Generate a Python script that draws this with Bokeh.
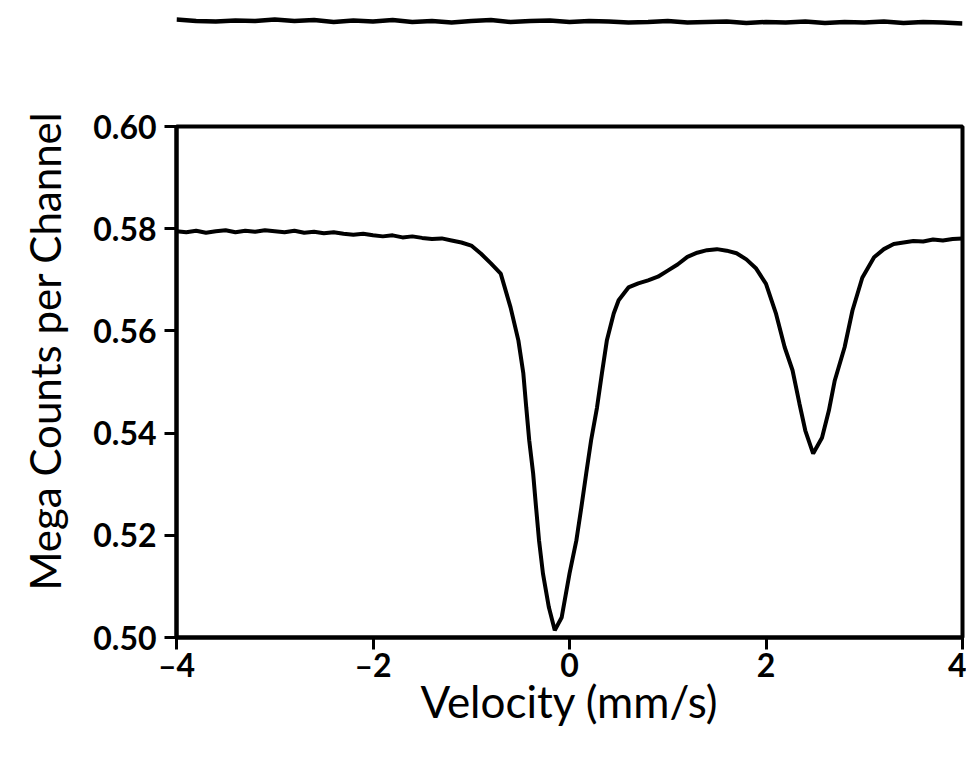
from bokeh.plotting import figure
from bokeh.layouts import column
from bokeh.models import Range1d, FixedTicker, Title
from bokeh.embed import file_html
from bokeh.resources import INLINE

# Main spectrum: velocity (mm/s) and counts (mega counts per channel)
velocity = [-4.0, -3.9, -3.8, -3.7, -3.6, -3.5, -3.4, -3.3, -3.2, -3.1, -3.0,
            -2.9, -2.8, -2.7, -2.6, -2.5, -2.4, -2.3, -2.2, -2.1, -2.0,
            -1.9, -1.8, -1.7, -1.6, -1.5, -1.4, -1.3, -1.2, -1.1, -1.0,
            -0.9, -0.8, -0.7, -0.6, -0.52, -0.47, -0.44, -0.41, -0.37, -0.34,
            -0.31, -0.27, -0.21, -0.15, -0.08, 0.0, 0.07, 0.12, 0.17, 0.22,
            0.28, 0.33, 0.38, 0.45, 0.5, 0.6, 0.7, 0.8, 0.9, 1.0,
            1.1, 1.2, 1.3, 1.4, 1.5, 1.6, 1.7, 1.8, 1.9, 2.0,
            2.1, 2.19, 2.27, 2.34, 2.40, 2.48, 2.57, 2.64, 2.70, 2.80,
            2.88, 2.98, 3.1, 3.2, 3.3, 3.4, 3.5, 3.6, 3.7, 3.8, 3.9, 4.0]
counts = [0.5795, 0.5793, 0.5796, 0.5792, 0.5795, 0.5797, 0.5793, 0.5796, 0.5794, 0.5797, 0.5795,
          0.5793, 0.5796, 0.5792, 0.5794, 0.5791, 0.5793, 0.5790, 0.5788, 0.5790, 0.5787,
          0.5785, 0.5787, 0.5783, 0.5785, 0.5782, 0.5780, 0.5781, 0.5777, 0.5773, 0.5767,
          0.5751, 0.5732, 0.5712, 0.5646, 0.5581, 0.5517, 0.5450, 0.5386, 0.5321, 0.5254,
          0.5190, 0.5125, 0.5059, 0.5014, 0.5039, 0.5125, 0.5190, 0.5254, 0.5321, 0.5386,
          0.5450, 0.5517, 0.5581, 0.5634, 0.5660, 0.5685, 0.5693, 0.5699, 0.5706, 0.5718,
          0.5730, 0.5745, 0.5753, 0.5758, 0.5760, 0.5757, 0.5752, 0.5740, 0.5722, 0.5692,
          0.5635, 0.5568, 0.5523, 0.5458, 0.5405, 0.5360, 0.5391, 0.5444, 0.5503, 0.5568,
          0.5640, 0.5704, 0.5744, 0.5760, 0.5770, 0.5773, 0.5776, 0.5775, 0.5779, 0.5777, 0.5780, 0.5781]

# Residual trace shown above the plot (arbitrary units)
resid_velocity = [-4.0, -3.8, -3.6, -3.4, -3.2, -3.0, -2.8, -2.6, -2.4, -2.2, -2.0,
                  -1.8, -1.6, -1.4, -1.2, -1.0, -0.8, -0.6, -0.4, -0.2, 0.0,
                  0.2, 0.4, 0.6, 0.8, 1.0, 1.2, 1.4, 1.6, 1.8, 2.0,
                  2.2, 2.4, 2.6, 2.8, 3.0, 3.2, 3.4, 3.6, 3.8, 4.0]
residual = [0.05, -0.1, -0.15, -0.05, -0.1, 0.05, -0.1, 0.0, -0.2, -0.05, -0.15,
            0.0, -0.2, -0.1, -0.25, -0.1, 0.0, -0.2, -0.1, -0.05, -0.2,
            -0.1, -0.15, -0.25, -0.2, -0.1, -0.25, -0.2, -0.15, -0.3, -0.2,
            -0.25, -0.15, -0.3, -0.2, -0.25, -0.15, -0.3, -0.2, -0.25, -0.35]

x_ticks = [-4, -2, 0, 2, 4]
x_tick_labels = {-4: "\u20134", -2: "\u20132", 0: "0", 2: "2", 4: "4"}
y_ticks = [0.50, 0.52, 0.54, 0.56, 0.58, 0.60]
y_tick_labels = {0.50: "0.50", 0.52: "0.52", 0.54: "0.54", 0.56: "0.56", 0.58: "0.58", 0.60: "0.60"}

FONT = "Lato"

top = figure(width=966, height=88, output_backend="svg", toolbar_location=None,
             x_range=Range1d(-4, 4), y_range=Range1d(-7, 2),
             min_border_left=176, min_border_right=4, min_border_top=0, min_border_bottom=0)
top.axis.visible = False
top.grid.visible = False
top.outline_line_color = None
top.line(resid_velocity, residual, line_color="black", line_width=4.5)

p = figure(frame_width=786, frame_height=511, output_backend="svg", toolbar_location=None,
           x_range=Range1d(-4, 4), y_range=Range1d(0.50, 0.60),
           min_border_left=176, min_border_right=4, min_border_top=38, min_border_bottom=110)
p.grid.visible = False
p.outline_line_color = "black"
p.outline_line_width = 4
p.outline_line_alpha = 1.0

p.line(velocity, counts, line_color="black", line_width=4)

p.xaxis.ticker = FixedTicker(ticks=x_ticks)
p.xaxis.major_label_overrides = x_tick_labels
p.yaxis.ticker = FixedTicker(ticks=y_ticks)
p.yaxis.major_label_overrides = y_tick_labels

for ax in (p.xaxis[0], p.yaxis[0]):
    ax.axis_line_width = 4
    ax.axis_line_color = "black"
    ax.major_tick_line_width = 3
    ax.major_tick_line_color = "black"
    ax.major_tick_out = 12
    ax.major_tick_in = 0
    ax.minor_tick_line_color = None
    ax.major_label_text_font = FONT
    ax.major_label_text_font_style = "bold"
    ax.major_label_text_font_size = "32px"
    ax.major_label_text_color = "black"
    ax.axis_label_text_font = FONT
    ax.axis_label_text_font_style = "normal"
    ax.axis_label_text_color = "black"

p.xaxis.axis_label = "Velocity (mm/s)"
p.xaxis.axis_label_text_font_size = "44px"
p.xaxis.major_label_standoff = -5
p.xaxis.axis_label_standoff = -12
p.yaxis.major_label_standoff = 8

ytitle = Title(text="Mega Counts per Channel", align="left", offset=47,
               standoff=37, vertical_align="top", text_font=FONT, text_font_size="42px",
               text_font_style="normal", text_color="black")
p.add_layout(ytitle, "left")

layout = column(top, p)
open("out.html", "w").write(file_html(layout, INLINE))
